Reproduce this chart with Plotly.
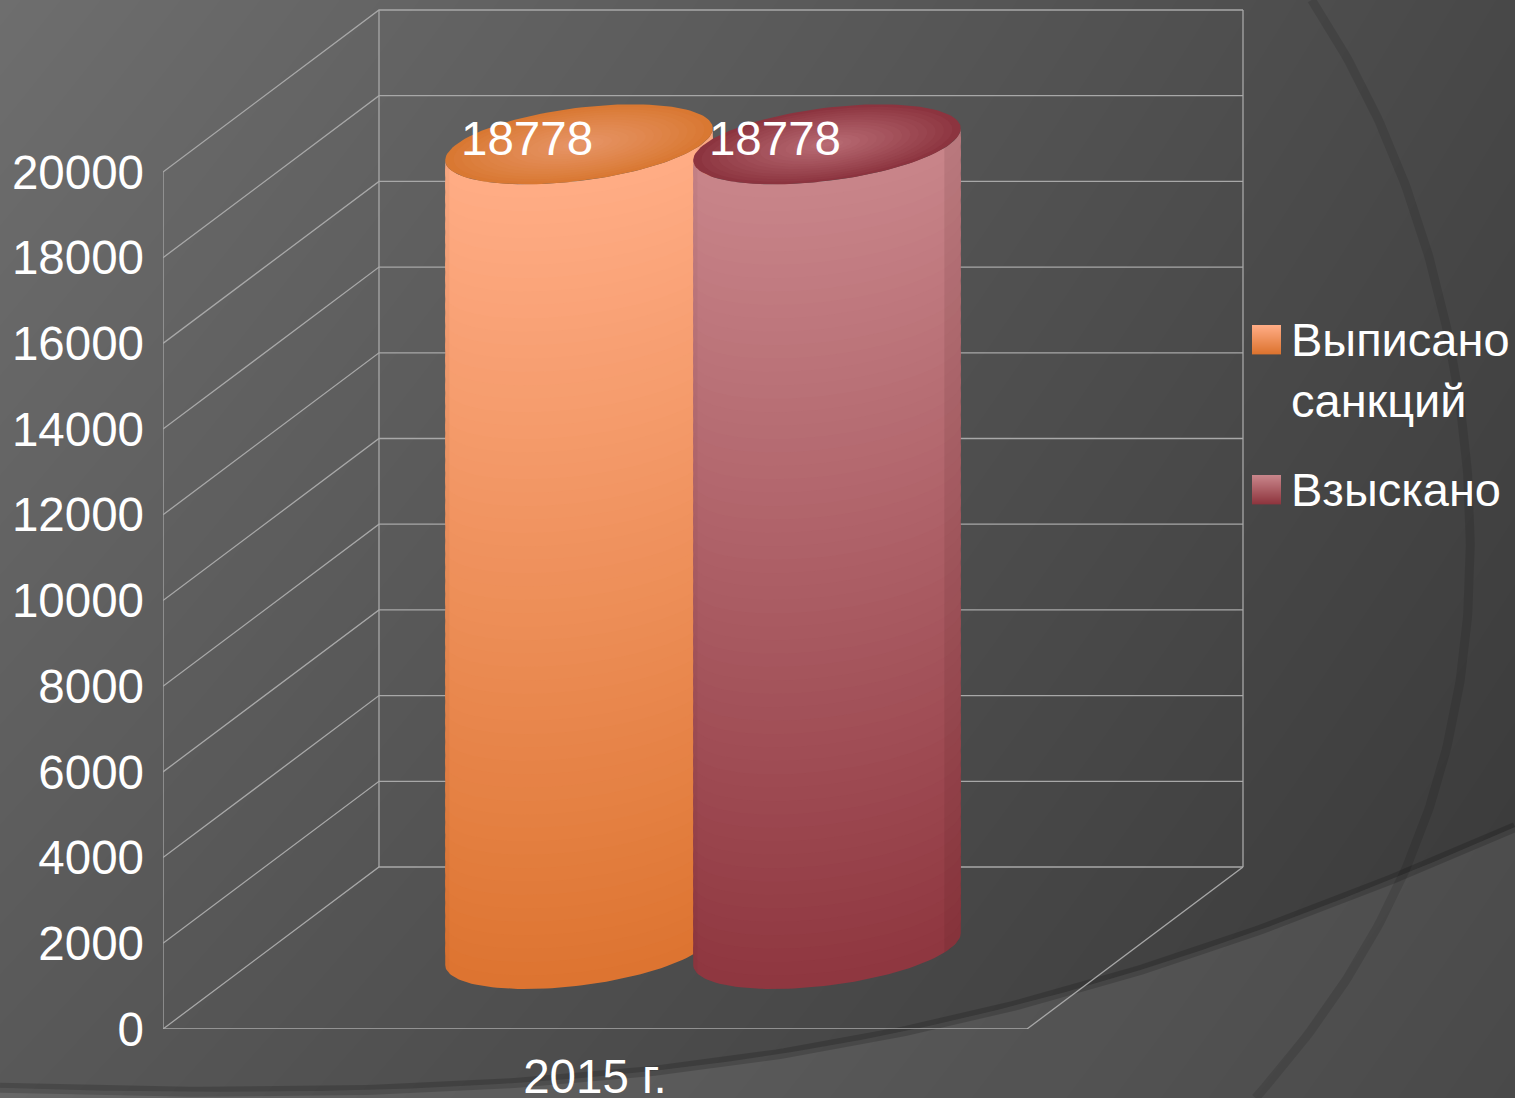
import numpy as np
import plotly.graph_objects as go

# ---------- chart data ----------
categories = ["2015 г."]
series_names = ["Выписано<br>санкций", "Взыскано"]
series_values = [18778, 18778]
tick_values = [0, 2000, 4000, 6000, 8000, 10000, 12000, 14000, 16000, 18000, 20000]
tick_labels = ["0", "2000", "4000", "6000", "8000", "10000", "12000", "14000", "16000", "18000", "20000"]

# ---------- styling ----------
W, H = 1515, 1098
FONT = "Liberation Sans"
FS = 47.5
GRID = "#a8a8a8"
top_colors = [(255, 172, 133), (200, 133, 138)]
bottom_colors = [(221, 116, 48), (143, 54, 63)]
cap_edge = [(217, 120, 50), (140, 52, 63)]
cap_mid = [(231, 150, 105), (186, 110, 118)]
right_strip_alpha = [0.02, 0.10]

# 3-D projection, in axis units: floor x is 0..1, depth 0..1
PX_X = 864.0                     # pixels of one floor width
PX_20K = 857.0                   # pixels of 20000 value units
DEPTH_X = 216.0 / PX_X           # shift in x of full depth
DEPTH_Y = 162.0 / PX_20K * 20000 # shift in value units of full depth
slot_x = [0.358, 0.645]
slot_depth = 0.494
R_X = 0.142
R_D = 0.247
X_RANGE = [0, 1090.0 / PX_X]
Y_RANGE = [0, 1029.0 / PX_20K * 20000]


def proj(x, value, depth):
    return x + DEPTH_X * np.asarray(depth), value + DEPTH_Y * np.asarray(depth)


def ring(i, value, t, scale=1.0):
    d = slot_depth + R_D * scale * np.sin(t)
    return proj(slot_x[i] + R_X * scale * np.cos(t), value, d)


def mix(a, b, f):
    return "rgb(%d,%d,%d)" % tuple(round(a[k] + (b[k] - a[k]) * f) for k in range(3))


fig = go.Figure()

# ---------- background (pixel-space subplot) ----------
fig.add_trace(go.Heatmap(
    x=[0, W], y=[0, H], z=[[110, 72], [88, 56]], zmin=0, zmax=255, zsmooth="best",
    colorscale=[[0, "#000000"], [1, "#ffffff"]], showscale=False, hoverinfo="skip",
    xaxis="x", yaxis="y"))

# decorative theme curves, smoothed with a polynomial through points
sweep_x = [0, 200, 430, 570, 660, 816, 942, 1100, 1200, 1300, 1400, 1515]
sweep_y = [1088, 1091, 1089, 1079, 1069, 1048, 1022, 985, 950, 913, 877, 827]
arc_x = [1312, 1353, 1383, 1407, 1433, 1442, 1465, 1473, 1435, 1407, 1367, 1300, 1257]
arc_y = [0, 70, 133, 183, 280, 300, 470, 540, 780, 870, 950, 1040, 1098]
sw_xs = np.linspace(0, W, 200)
sw_ys = np.polyval(np.polyfit(np.array(sweep_x) / W, sweep_y, 5), sw_xs / W)
ar_ys = np.linspace(0, H, 200)
ar_xs = np.polyval(np.polyfit(np.array(arc_y) / H, arc_x, 5), ar_ys / H)
fig.add_trace(go.Scatter(
    x=np.r_[sw_xs, W, 0], y=np.r_[sw_ys, H, H], mode="lines", fill="toself",
    fillcolor="rgba(255,255,255,0.09)", line=dict(width=0), hoverinfo="skip",
    showlegend=False, xaxis="x", yaxis="y"))
fig.add_trace(go.Scatter(
    x=sw_xs, y=sw_ys, mode="lines", line=dict(color="rgba(0,0,0,0.17)", width=10),
    hoverinfo="skip", showlegend=False, xaxis="x", yaxis="y"))
fig.add_trace(go.Scatter(
    x=ar_xs, y=ar_ys, mode="lines", line=dict(color="rgba(0,0,0,0.11)", width=9),
    hoverinfo="skip", showlegend=False, xaxis="x", yaxis="y"))

# ---------- walls and gridlines ----------
gx, gy = [], []
for v in tick_values:
    x0, y0 = proj(0, v, 0)
    x1, y1 = proj(0, v, 1)
    x2, y2 = proj(1, v, 1)
    gx += [x0, x1, x2, None]
    gy += [y0, y1, y2, None]
vmax = tick_values[-1]
for p, q in [((0, 0, 0), (0, vmax, 0)), ((0, 0, 1), (0, vmax, 1)), ((1, 0, 1), (1, vmax, 1)),
             ((0, 0, 0), (1, 0, 0)), ((1, 0, 0), (1, 0, 1))]:
    a, b = proj(*p), proj(*q)
    gx += [a[0], b[0], None]
    gy += [a[1], b[1], None]
fig.add_trace(go.Scatter(x=gx, y=gy, mode="lines", line=dict(color=GRID, width=1.3),
                         hoverinfo="skip", showlegend=False, xaxis="x2", yaxis="y2"))

# ---------- cylinders ----------
T0 = np.arctan2(DEPTH_X * R_D, R_X)
N_SLICES = 60
for i, val in enumerate(series_values):
    ts = np.linspace(T0, T0 - np.pi, 70)
    levels = np.linspace(0, val, N_SLICES + 1)
    overlap = val / N_SLICES * 0.6
    for k in range(N_SLICES):
        x1, y1 = ring(i, levels[k], ts)
        x2, y2 = ring(i, min(levels[k + 1] + overlap, val), ts)
        c = mix(bottom_colors[i], top_colors[i], (k + 0.5) / N_SLICES)
        fig.add_trace(go.Scatter(
            x=np.r_[x1, x2[::-1]], y=np.r_[y1, y2[::-1]], mode="lines", fill="toself",
            fillcolor=c, line=dict(width=0), hoverinfo="skip", showlegend=False,
            xaxis="x2", yaxis="y2"))
    # darker side strips
    for a, b, alpha in [(T0, T0 - 0.5, right_strip_alpha[i]), (T0 - np.pi + 0.25, T0 - np.pi, 0.04)]:
        tt = np.linspace(a, b, 20)
        x1, y1 = ring(i, 0, tt)
        x2, y2 = ring(i, val, tt)
        fig.add_trace(go.Scatter(
            x=np.r_[x1, x2[::-1]], y=np.r_[y1, y2[::-1]], mode="lines", fill="toself",
            fillcolor="rgba(60,20,20,%.2f)" % alpha, line=dict(width=0),
            hoverinfo="skip", showlegend=False, xaxis="x2", yaxis="y2"))
    # lid: stacked ellipses give a radial shading
    tc = np.linspace(0, 2 * np.pi, 120)
    for s in np.linspace(1, 0.06, 16):
        x, y = ring(i, val, tc, s)
        fig.add_trace(go.Scatter(
            x=x, y=y, mode="lines", fill="toself",
            fillcolor=mix(cap_edge[i], cap_mid[i], (1 - s) ** 0.9),
            line=dict(width=0), hoverinfo="skip", showlegend=False, xaxis="x2", yaxis="y2"))

# ---------- data labels ----------
label_dx = -52.0 / PX_X
label_dy = 1.0 / PX_20K * 20000
for i, val in enumerate(series_values):
    cx, cy = ring(i, val, np.array([0.0]), 0.0)
    fig.add_trace(go.Scatter(
        x=[cx[0] + label_dx], y=[cy[0] + label_dy], mode="text", text=[str(val)],
        textposition="middle center", textfont=dict(family=FONT, size=FS, color="white"),
        hoverinfo="skip", showlegend=False, xaxis="x2", yaxis="y2", cliponaxis=False))

# ---------- legend ----------
for i, name in enumerate(series_names):
    fig.add_trace(go.Scatter(
        x=[None], y=[None], mode="markers", name=name, legendgroup=str(i),
        marker=dict(symbol="square", size=1, color="rgba(0,0,0,0)", line=dict(width=0)),
        xaxis="x2", yaxis="y2"))

shapes = []
swatch_top = [325, 475]
for i, y0 in enumerate(swatch_top):
    for k in range(29):
        shapes.append(dict(
            type="rect", xref="x", yref="y", x0=1252, x1=1281, y0=y0 + k, y1=y0 + k + 1.4,
            fillcolor=mix(top_colors[i], bottom_colors[i], k / 28), line=dict(width=0), layer="above"))

tickfont = dict(family=FONT, size=FS, color="white")
fig.update_layout(
    width=W, height=H, margin=dict(l=0, r=0, t=0, b=0), autosize=False,
    paper_bgcolor="#4c4c4c", plot_bgcolor="rgba(0,0,0,0)", shapes=shapes,
    xaxis=dict(domain=[0, 1], range=[0, W], visible=False, fixedrange=True, automargin=False),
    yaxis=dict(domain=[0, 1], range=[H, 0], visible=False, fixedrange=True, automargin=False),
    xaxis2=dict(domain=[163 / W, 1253 / W], range=X_RANGE, anchor="y2", showgrid=False,
                zeroline=False, showline=False, ticks="", tickmode="array",
                tickvals=[0.5], ticktext=categories, tickfont=tickfont,
                ticklabelstandoff=15, fixedrange=True, automargin=False),
    yaxis2=dict(domain=[(H - 1029) / H, 1], range=Y_RANGE, anchor="x2", showgrid=False,
                zeroline=False, showline=False, ticks="", tickmode="array",
                tickvals=tick_values, ticktext=tick_labels, tickfont=tickfont,
                ticklabelstandoff=18, fixedrange=True, automargin=False),
    legend=dict(x=1, y=1 - 301 / H, xanchor="right", yanchor="top",
                bgcolor="rgba(0,0,0,0)", borderwidth=0, itemclick=False, itemdoubleclick=False,
                font=dict(family=FONT, size=47, color="white"), tracegroupgap=24,
                itemwidth=30),
    showlegend=True,
)

fig.write_html("out.html", post_script="document.body.style.margin='0';",
               config=dict(displayModeBar=False))
